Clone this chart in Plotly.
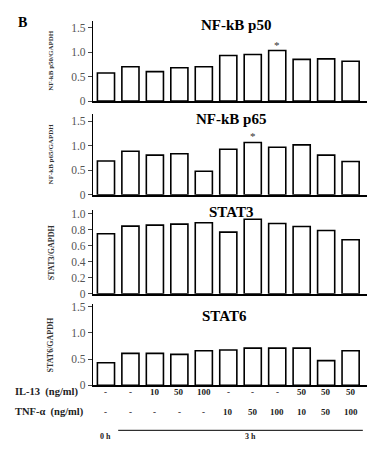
import plotly.graph_objects as go

il13 = ["-", "-", "10", "50", "100", "-", "-", "-", "50", "50", "50"]
tnf = ["-", "-", "-", "-", "-", "10", "50", "100", "10", "50", "100"]
p50 = [0.57, 0.70, 0.60, 0.68, 0.70, 0.93, 0.95, 1.03, 0.85, 0.86, 0.81]
p65 = [0.69, 0.89, 0.81, 0.84, 0.48, 0.93, 1.07, 0.97, 1.02, 0.81, 0.68]
stat3 = [0.75, 0.845, 0.857, 0.87, 0.886, 0.77, 0.93, 0.878, 0.84, 0.79, 0.675]
stat6 = [0.43, 0.61, 0.61, 0.59, 0.66, 0.675, 0.71, 0.71, 0.71, 0.47, 0.66]

titles = ["NF-kB p50", "NF-kB p65", "STAT3", "STAT6"]
ytitles = ["NF-kB p50/GAPDH", "NF-kB p65/GAPDH", "STAT3/GAPDH", "STAT6/GAPDH"]
ytitle_size = [7, 7, 8, 8]
series = [p50, p65, stat3, stat6]
ranges = [[0, 1.64], [0, 1.65], [0, 1.04], [0, 1.556]]
tickvals = [[0, 0.5, 1.0, 1.5], [0, 0.5, 1.0, 1.5], [0, 0.2, 0.4, 0.6, 0.8, 1.0], [0, 0.5, 1.0, 1.5]]
ticktext = [["0", "0.5", "1.0", "1.5"], ["0", "0.5", "1.0", "1.5"],
            ["0", "0.2", "0.4", "0.6", "0.8", "1.0"], ["0", "0.5", "1.0", "1.5"]]
star_idx = [7, 6, None, None]

W, H = 367, 452
# pixel (top, bottom) of each panel's plot area
pix = [(18, 100), (113.3, 195.7), (211.7, 296.7), (307, 390)]
title_y = [22, 118, 213, 319]
title_x = [236, 231, 231, 225]

xs = list(range(len(il13)))
serif = "Liberation Serif"


def ann(**kw):
    kw.setdefault("showarrow", False)
    kw.setdefault("xanchor", "center")
    kw.setdefault("yanchor", "middle")
    fig.add_annotation(**kw)


fig = go.Figure()
for i, vals in enumerate(series):
    n = i + 1
    xa = f"x{n}" if n > 1 else "x"
    ya = f"y{n}" if n > 1 else "y"
    fig.add_trace(go.Bar(
        x=xs, y=vals, width=0.7,
        marker=dict(color="white", line=dict(color="black", width=1.6)),
        xaxis=xa, yaxis=ya, showlegend=False, hoverinfo="skip"))
    top, bot = pix[i]
    dom = [1 - bot / H, 1 - top / H]
    fig.layout[f"xaxis{n}" if n > 1 else "xaxis"] = dict(
        domain=[93 / W, 1], range=[-0.53, 10.67], showticklabels=False,
        ticks="", showgrid=False, zeroline=False, showline=True,
        linecolor="black", linewidth=1.5, anchor=ya, fixedrange=True)
    fig.layout[f"yaxis{n}" if n > 1 else "yaxis"] = dict(
        domain=dom, range=ranges[i], tickvals=tickvals[i], ticktext=ticktext[i],
        ticks="outside", ticklen=4, tickcolor="#444", tickwidth=1,
        showgrid=False, zeroline=False, showline=True, linecolor="black",
        linewidth=1.2, anchor=xa,
        tickfont=dict(family=serif, size=11.5, color="#555"), fixedrange=True)
    ann(xref="paper", yref="paper", x=title_x[i] / W, y=1 - title_y[i] / H,
        text=f"<b>{titles[i]}</b>", font=dict(family=serif, size=15, color="black"))
    ann(xref="paper", yref="paper", x=51 / W, y=1 - (top + bot) / 2 / H,
        text=f"<b>{ytitles[i]}</b>", textangle=-90,
        font=dict(family=serif, size=ytitle_size[i], color="#333"))
    if star_idx[i] is not None:
        k = star_idx[i]
        ann(xref=xa, yref=ya, x=xs[k], y=vals[k], yshift=6, text="*",
            font=dict(family=serif, size=11, color="#333"), borderpad=0)

# bottom labels
for j in xs:
    ann(xref="x4", yref="paper", x=xs[j], y=1 - 397 / H, text=f"<b>{il13[j]}</b>",
        font=dict(family=serif, size=9, color="#222"))
    ann(xref="x4", yref="paper", x=xs[j], y=1 - 417 / H, text=f"<b>{tnf[j]}</b>",
        font=dict(family=serif, size=9, color="#222"))
ann(xref="paper", yref="paper", x=13 / W, y=1 - 397 / H, xanchor="left",
    text="<b>IL-13  (ng/ml)</b>", font=dict(family=serif, size=10.5, color="#222"))
ann(xref="paper", yref="paper", x=13 / W, y=1 - 417 / H, xanchor="left",
    text="<b>TNF-α  (ng/ml)</b>", font=dict(family=serif, size=10.5, color="#222"))
ann(xref="x4", yref="paper", x=xs[0], y=1 - 442 / H, text="<b>0 h</b>",
    font=dict(family=serif, size=8, color="#222"))
ann(xref="x4", yref="paper", x=(xs[1] + xs[-1]) / 2 + 0.4, y=1 - 442 / H,
    text="<b>3 h</b>", font=dict(family=serif, size=8, color="#222"))
fig.add_shape(type="line", xref="x4", yref="paper", x0=xs[1] - 0.5, x1=xs[-1] + 0.5,
              y0=1 - 436 / H, y1=1 - 436 / H, line=dict(color="black", width=1))
ann(xref="paper", yref="paper", x=22 / W, y=1 - 20 / H, text="<b>B</b>",
    font=dict(family=serif, size=14, color="black"))

fig.update_layout(width=W, height=H, margin=dict(l=0, r=0, t=0, b=0),
                  plot_bgcolor="white", paper_bgcolor="white", bargap=0.3)
fig.write_html("out.html", config={"displayModeBar": False},
               post_script="document.body.style.margin='0';document.body.style.overflow='hidden';")
